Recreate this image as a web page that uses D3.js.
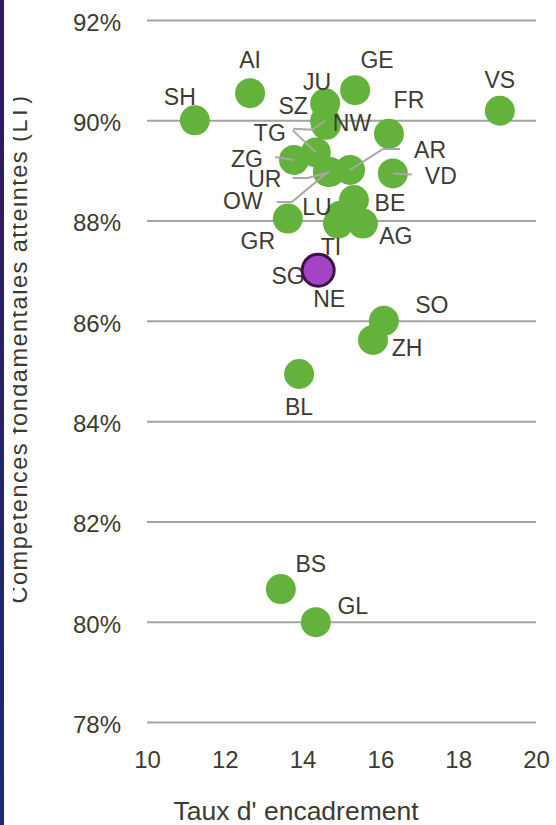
<!DOCTYPE html>
<meta charset="utf-8">
<style>
body { margin: 0; background: #fff; }
text {
  font-family: "Liberation Sans", Arial, sans-serif;
  fill: #3d3b2f;
}
.tick text { font-size: 24px; }
.pt-label { font-size: 23px; }
</style>
<svg width="556" height="825"></svg>
<script src="https://d3js.org/d3.v7.min.js"></script>
<script>

// Canton codes, taux d'encadrement (x) and competences atteintes in % (y)
var cantons = ["SH","AI","GE","VS","JU","SZ","NW","FR","TG","ZG","UR","OW","AR","VD",
               "LU","BE","AG","TI","GR","NE","SO","ZH","BL","BS","GL","SG"];
var taux    = [11.23,12.65,15.35,19.07,14.58,14.58,14.60,16.22,14.34,13.78,14.70,14.65,15.22,16.32,
               14.96,15.32,15.55,14.91,13.62,14.40,16.09,15.81,13.91,13.44,14.34,14.40];
var competences = [90.00,90.54,90.60,90.19,90.34,89.99,89.91,89.73,89.36,89.21,88.97,88.97,89.01,88.94,
               88.09,88.41,87.94,87.94,88.04,87.01,86.00,85.62,84.94,80.65,79.99,87.01];
var highlight = "SG";

var xTicks = [10,12,14,16,18,20];
var yTicks = [78,80,82,84,86,88,90,92];

// label placement (px, relative to the point) and leader lines
var labelPos = {
  SH:[-15,-24], AI:[0,-33], GE:[22,-30], VS:[0,-31], JU:[-8,-22], SZ:[-32,-15],
  NW:[26,-2], FR:[20,-34], TG:[-46,-20], ZG:[-47,-1.5], UR:[-65,6.5], OW:[-85,29],
  AR:[80,-20], VD:[48,2], LU:[-23,-9], BE:[36,3], AG:[33,12], TI:[-7,23],
  GR:[-30,22], SG:[-30,6], NE:[11,29], SO:[48,-16], ZH:[34,8], BL:[0,33],
  BS:[30,-25], GL:[37,-16]
};
var leaders = {
  TG:[[-23,-22]], SZ:[[-13,9],[-32,8]], ZG:[[-19,-3]], UR:[[-22,6],[-37,6]],
  OW:[[-36,30],[-51,30]], AR:[[33,-21],[50,-21]], VD:[[19,1]]
};

var svg = d3.select("svg");

// dark stripe on the left edge
var defs = svg.append("defs");
var grad = defs.append("linearGradient")
  .attr("id","stripe").attr("x1",0).attr("y1",0).attr("x2",0).attr("y2",1);
grad.append("stop").attr("offset","0%").attr("stop-color","#321a5c");
grad.append("stop").attr("offset","100%").attr("stop-color","#1d2a72");
defs.append("clipPath").attr("id","ylab-clip")
  .append("rect").attr("x",13).attr("y",0).attr("width",60).attr("height",825);
svg.append("rect").attr("x",0).attr("y",0).attr("width",4).attr("height",825)
  .attr("fill","url(#stripe)");

var x = d3.scaleLinear().domain([10,20]).range([147,536]);
var y = d3.scaleLinear().domain([78,92]).range([722,20]);

// gridlines + y labels
var yAxis = svg.append("g")
  .attr("transform","translate(147,0)")
  .call(d3.axisLeft(y).tickValues(yTicks).tickSize(-389).tickPadding(26)
    .tickFormat(function(d){ return d + "%"; }));
yAxis.select(".domain").remove();
yAxis.selectAll(".tick line").attr("stroke","#a3a3a0").attr("stroke-width",2);
yAxis.selectAll(".tick text").attr("dy","0.43em").style("font-family",null);

var xAxis = svg.append("g")
  .attr("transform","translate(0,722)")
  .call(d3.axisBottom(x).tickValues(xTicks).tickSize(0).tickPadding(29));
xAxis.select(".domain").remove();
xAxis.selectAll(".tick text").attr("dy","0.71em").style("font-family",null);

svg.append("text")
  .attr("x",296).attr("y",820)
  .attr("text-anchor","middle")
  .style("font-size","26.5px")
  .text("Taux d' encadrement");

svg.append("g").attr("clip-path","url(#ylab-clip)")
  .append("text")
  .attr("transform","translate(27,349) rotate(-90)")
  .attr("text-anchor","middle")
  .style("font-size","23.5px")
  .style("letter-spacing","1.5px")
  .text("Compétences fondamentales atteintes (LT)");

var data = cantons.map(function(c,i){
  return {code:c, x:taux[i], y:competences[i]};
});
var normal = data.filter(function(d){ return d.code != highlight; });
var hi = data.filter(function(d){ return d.code == highlight; });

svg.append("g").selectAll("circle")
  .data(normal).enter().append("circle")
  .attr("cx",function(d){ return x(d.x); })
  .attr("cy",function(d){ return y(d.y); })
  .attr("r",15)
  .attr("fill","#63b23b");

var line = d3.line();
svg.append("g").selectAll("path")
  .data(data.filter(function(d){ return leaders[d.code]; }))
  .enter().append("path")
  .attr("d",function(d){
    var px = x(d.x), py = y(d.y);
    var pts = [[px,py]].concat(leaders[d.code].map(function(o){ return [px+o[0],py+o[1]]; }));
    return line(pts);
  })
  .attr("fill","none")
  .attr("stroke","#a8a8a8")
  .attr("stroke-width",2);

svg.append("g").selectAll("text")
  .data(data).enter().append("text")
  .attr("class","pt-label")
  .attr("x",function(d){ return x(d.x) + labelPos[d.code][0]; })
  .attr("y",function(d){ return y(d.y) + labelPos[d.code][1]; })
  .attr("dy","0.36em")
  .attr("text-anchor","middle")
  .text(function(d){ return d.code; });

// highlighted canton drawn last, over its own label
svg.append("g").selectAll("circle")
  .data(hi).enter().append("circle")
  .attr("cx",function(d){ return x(d.x); })
  .attr("cy",function(d){ return y(d.y); })
  .attr("r",16)
  .attr("fill","#a443c4")
  .attr("stroke","#3b1244")
  .attr("stroke-width",3);

</script>
